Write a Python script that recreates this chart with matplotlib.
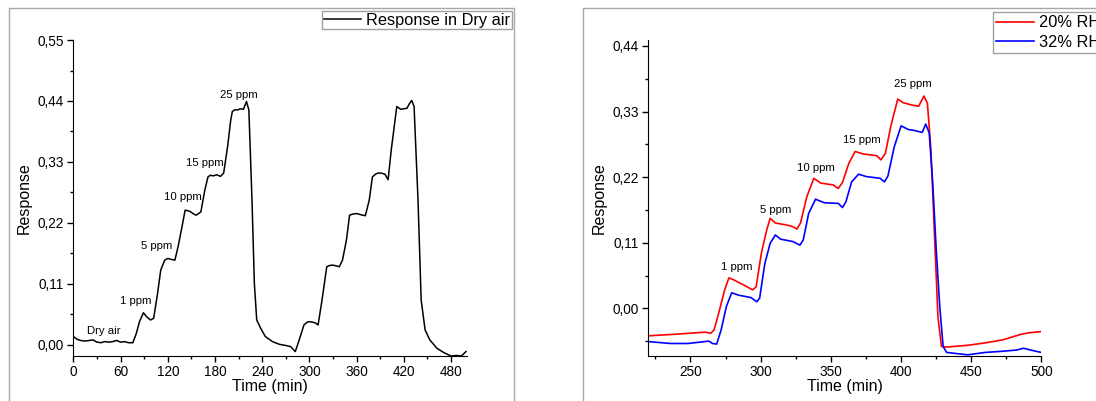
import matplotlib
matplotlib.use('Agg')
import matplotlib.pyplot as plt
from matplotlib.patches import Rectangle
from matplotlib.ticker import MultipleLocator, FuncFormatter
import numpy as np

plt.rcParams['font.family'] = ['Liberation Sans', 'DejaVu Sans']

# --- left panel: response in dry air (time in min, response) ---
dry_t = [0, 5, 9, 15, 20, 25, 30, 35, 40, 45, 50, 55, 60, 65, 70, 75.6,
         80, 84, 89, 93, 98, 102,
         107, 111, 116, 120, 125, 129, 133,
         138, 142, 146, 149, 153, 156, 159, 162,
         167, 171, 174, 178, 182, 187, 191,
         196, 200, 202, 205, 209, 212, 216, 220, 223,
         227, 230, 233, 238, 244, 253, 262, 270, 276, 282,
         287, 293, 297, 300, 304, 307, 311,
         316, 322, 325, 329, 333, 338, 342,
         347, 351, 355, 360, 365, 371, 376,
         380, 384, 387, 391, 396, 400, 404,
         411, 414, 416, 420, 424, 427, 430, 433,
         438, 442, 447, 453, 462, 471, 480, 487, 493, 499]
dry_r = [0.015, 0.010, 0.008, 0.007, 0.008, 0.009, 0.005, 0.004, 0.006, 0.005, 0.006, 0.008, 0.005, 0.006, 0.004, 0.004,
         0.021, 0.042, 0.058, 0.051, 0.045, 0.048,
         0.093, 0.135, 0.153, 0.156, 0.154, 0.153, 0.177,
         0.213, 0.243, 0.242, 0.240, 0.236, 0.234, 0.237, 0.240,
         0.279, 0.303, 0.306, 0.305, 0.307, 0.304, 0.310,
         0.358, 0.406, 0.421, 0.424, 0.424, 0.426, 0.425, 0.439, 0.424,
         0.261, 0.111, 0.045, 0.030, 0.015, 0.006, 0.001, -0.001, -0.003, -0.012,
         0.009, 0.036, 0.041, 0.042, 0.041, 0.040, 0.036,
         0.081, 0.141, 0.143, 0.144, 0.143, 0.141, 0.153,
         0.189, 0.234, 0.236, 0.237, 0.235, 0.233, 0.261,
         0.303, 0.308, 0.310, 0.310, 0.308, 0.298, 0.352,
         0.430, 0.427, 0.425, 0.426, 0.427, 0.435, 0.441, 0.430,
         0.261, 0.081, 0.027, 0.009, -0.006, -0.014, -0.020, -0.019, -0.020, -0.012]
dry_labels = ['Dry air', '1 ppm', '5 ppm', '10 ppm', '15 ppm', '25 ppm']
dry_label_t = [38.7, 79, 106, 139, 167, 210]
dry_label_r = [0.025, 0.080, 0.178, 0.267, 0.328, 0.451]

# --- right panel: humid air ---
rh20_t = [220.9, 235.8, 248.3, 260.7, 264.4, 266.9,
          270.7, 274.4, 277.4, 280.6, 288.1, 294.3, 296.8,
          300.5, 304.3, 306.8, 310.5, 318, 323, 325.9, 328.4,
          332.9, 337.9, 342.9, 351.6, 355.3, 358.3,
          362.8, 367.3, 372.8, 382.7, 385.7, 388.9,
          392.7, 397.7, 401.4, 407.6, 412.6, 416.3, 418.8,
          421.3, 423.8, 426.3, 428.8, 432.5, 447.5, 460, 472.4, 484.9, 491.2, 499.9]
rh20_r = [-0.046, -0.044, -0.042, -0.040, -0.042, -0.036,
          -0.003, 0.031, 0.051, 0.048, 0.039, 0.031, 0.036,
          0.092, 0.131, 0.151, 0.143, 0.140, 0.137, 0.133, 0.143,
          0.187, 0.218, 0.210, 0.207, 0.201, 0.211,
          0.243, 0.263, 0.259, 0.256, 0.249, 0.260,
          0.305, 0.351, 0.345, 0.341, 0.339, 0.356, 0.344,
          0.266, 0.126, -0.014, -0.064, -0.065, -0.062, -0.058, -0.053, -0.044, -0.041, -0.039]
rh32_t = [220.9, 235.8, 248.3, 263.2, 265.7, 268.7,
          271.9, 275.6, 279.4, 284.4, 293.1, 297.3, 299.3,
          303, 306.8, 310.5, 314.2, 323, 328, 330.4,
          334.2, 339.1, 345.4, 355.3, 358.3, 360.8,
          364.8, 369.8, 375.2, 385.2, 388.2, 390.7,
          395.2, 400.1, 405.1, 410.1, 415.1, 417.6, 420.1,
          422.6, 425.1, 427.6, 430, 432.5, 447.5, 460, 472.4, 482.3, 487.3, 492.3, 499.9]
rh32_r = [-0.056, -0.059, -0.059, -0.055, -0.059, -0.060,
          -0.036, 0.003, 0.026, 0.022, 0.018, 0.011, 0.017,
          0.075, 0.109, 0.123, 0.116, 0.112, 0.106, 0.115,
          0.159, 0.183, 0.177, 0.176, 0.169, 0.179,
          0.212, 0.225, 0.221, 0.218, 0.212, 0.222,
          0.271, 0.306, 0.300, 0.298, 0.295, 0.309, 0.294,
          0.210, 0.098, 0.003, -0.064, -0.074, -0.078, -0.074, -0.072, -0.070, -0.067, -0.070, -0.074]
rh_labels = ['1 ppm', '5 ppm', '10 ppm', '15 ppm', '25 ppm']
rh_label_t = [283.1, 310.5, 339.6, 372.3, 408.4]
rh_label_r = [0.070, 0.165, 0.236, 0.282, 0.377]

W, H = 1096, 401
comma = FuncFormatter(lambda v, p: ('%.2f' % v).replace('.', ','))


def style_axes(ax):
    for s in ['top', 'right']:
        ax.spines[s].set_visible(False)
    ax.tick_params(which='major', direction='out', length=4.3, width=1, labelsize=9.8, pad=2.5)
    ax.tick_params(which='minor', direction='out', length=2.5, width=1)
    ax.yaxis.set_major_formatter(comma)
    ax.set_xlabel('Time (min)', fontsize=11.5, labelpad=0)
    ax.set_ylabel('Response', fontsize=11.5, labelpad=4)


fig = plt.figure(figsize=(W / 100, H / 100), dpi=100)

# gray outer frames like the source panels
fig.patches.append(Rectangle((9 / W, -0.1), 505 / W, 1 - 8 / H + 0.1,
                             transform=fig.transFigure, fill=False, edgecolor='#a8a8a8', lw=1))
fig.patches.append(Rectangle((583 / W, -0.1), 0.6, 1 - 8 / H + 0.1,
                             transform=fig.transFigure, fill=False, edgecolor='#a8a8a8', lw=1))

ax1 = fig.add_axes([73.4 / W, 0.1122, 393.4 / W, 0.788])
ax1.plot(dry_t, dry_r, color='black', lw=1.1, label='Response in Dry air')
for lab, t, r in zip(dry_labels, dry_label_t, dry_label_r):
    ax1.text(t, r, lab, fontsize=8.2, ha='center', va='center')
ax1.set_xlim(0, 500)
ax1.set_ylim(-0.02, 0.55)
ax1.set_xticks(np.arange(0, 481, 60))
ax1.set_yticks(np.arange(0, 0.56, 0.11))
ax1.xaxis.set_minor_locator(MultipleLocator(30))
ax1.yaxis.set_minor_locator(MultipleLocator(0.055))
style_axes(ax1)
ax1.legend(loc='upper left', bbox_to_anchor=(322 / W, 1 - 11 / H), bbox_transform=fig.transFigure,
           fontsize=11.8, frameon=True, fancybox=False, edgecolor='#a0a0a0', framealpha=1,
           borderpad=0.1, handlelength=2.3, handletextpad=0.3, borderaxespad=0)

ax2 = fig.add_axes([648.3 / W, 0.1122, 393.1 / W, 0.788])
ax2.plot(rh20_t, rh20_r, color='#ff0000', lw=1.2, label='20% RH')
ax2.plot(rh32_t, rh32_r, color='#0000ff', lw=1.2, label='32% RH')
for lab, t, r in zip(rh_labels, rh_label_t, rh_label_r):
    ax2.text(t, r, lab, fontsize=8.2, ha='center', va='center')
ax2.set_xlim(220, 500)
ax2.set_ylim(-0.08, 0.45)
ax2.set_xticks(np.arange(250, 501, 50))
ax2.set_yticks(np.arange(0, 0.45, 0.11))
ax2.xaxis.set_minor_locator(MultipleLocator(25))
ax2.yaxis.set_minor_locator(MultipleLocator(0.055))
style_axes(ax2)
ax2.legend(loc='upper left', bbox_to_anchor=(993 / W, 1 - 12 / H), bbox_transform=fig.transFigure,
           fontsize=11.8, frameon=True, fancybox=False, edgecolor='#a0a0a0', framealpha=1,
           borderpad=0.2, labelspacing=0.3, handlelength=2.3, handletextpad=0.3, borderaxespad=0)

fig.savefig('out.png', dpi=100)
